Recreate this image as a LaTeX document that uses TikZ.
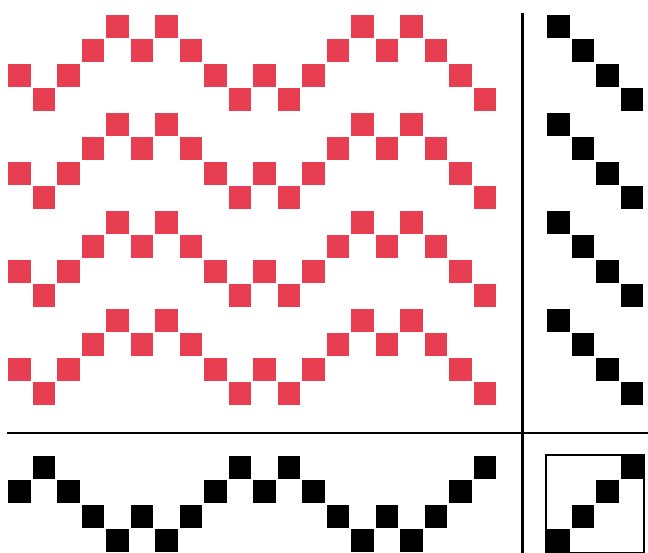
\documentclass[tikz,border=0pt]{standalone}
\usepackage{xcolor}
\usepackage{tikz}
\definecolor{weftred}{RGB}{232,62,82}

\begin{document}
\begin{tikzpicture}[x=0.5cm,y=-0.5cm,
  redcell/.style={fill=weftred},
  blackcell/.style={fill=black},
  rule/.style={line width=1.6pt}]
\useasboundingbox (-0.327,-0.612) rectangle (26.122,21.959);
% threading and drawdown
\foreach \s [count=\c from 0] in {1,0,1,2,3,2,3,2,1,0,1,0,1,2,3,2,3,2,1,0} {
  \fill[blackcell] (\c,18+\s) rectangle ++(0.93,0.93);
  \foreach \r in {0,...,15} {
    \pgfmathtruncatemacro{\shaft}{3-mod(\r,4)}
    \ifnum\shaft=\s \fill[redcell] (\c,\r) rectangle ++(0.93,0.93); \fi
  }
}
% treadling
\foreach \r in {0,...,15} {
  \pgfmathtruncatemacro{\tr}{mod(\r,4)}
  \fill[blackcell] (22+\tr,\r) rectangle ++(0.93,0.93);
}
% tie-up
\foreach \j in {0,...,3}
  \fill[blackcell] (22+\j,21-\j) rectangle ++(0.93,0.93);
\draw[line width=1.2pt] (21.96,17.96) rectangle (25.96,21.96);
% dividing lines
\draw[rule] (-0.04,17.06) -- (26.122,17.06);
\draw[rule] (21.0,-0.08) -- (21.0,21.959);
\end{tikzpicture}
\end{document}
